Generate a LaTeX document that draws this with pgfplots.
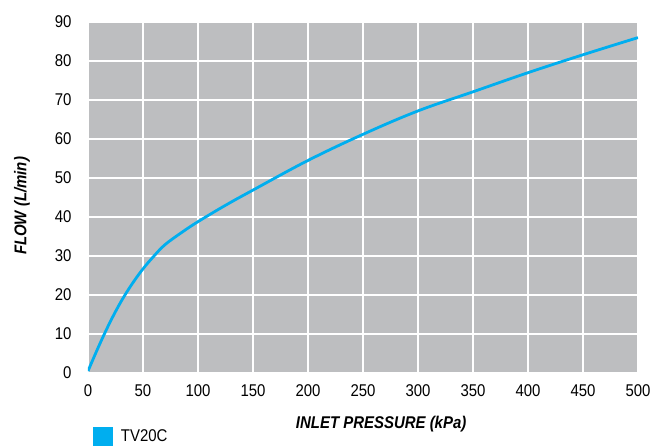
\documentclass[border=0pt]{standalone}
\usepackage{pgfplots}
\pgfplotsset{compat=1.18}
\usepackage{fontspec}
\setmainfont{Liberation Sans}[FakeStretch=0.88]
\definecolor{bggray}{HTML}{BDBEC0}
\definecolor{cyanline}{HTML}{00AEEF}
\pgfplotstableread{
x y
0 0.5
10 7.0
20 13.0
30 18.3
40 22.8
50 26.7
60 30.0
70 32.9
85 36.0
100 38.8
125 43.0
150 46.9
200 54.5
250 61.2
300 67.2
350 72.1
400 77.0
450 81.6
500 86.0
}\flowdata
\begin{document}
\begin{tikzpicture}
\useasboundingbox (-88pt,-73pt) rectangle (581pt,373pt);
\begin{axis}[
  scale only axis,
  width=550pt, height=351pt,
  xmin=0, xmax=500, ymin=0, ymax=90,
  xtick={0,50,...,500}, ytick={0,10,...,90},
  axis background/.style={fill=bggray},
  axis line style={draw=none},
  major tick length=0pt,
  grid=major,
  major grid style={white, line width=2.6pt},
  tick label style={font=\fontsize{17}{19}\selectfont, black},
  /pgf/number format/assume math mode=true,
  xticklabel style={yshift=-8pt},
  yticklabel style={xshift=-13pt},
  xlabel={\textbf{\textit{INLET PRESSURE (kPa)}}},
  ylabel={\textbf{\textit{FLOW (L/min)}}},
  label style={font=\fontsize{17}{19}\selectfont},
  xlabel style={at={(axis description cs:0.533,-0.145)}, anchor=center},
  ylabel style={at={(axis description cs:-0.12,0.476)}, anchor=center},
  legend style={at={(axis description cs:0.009,-0.18)}, anchor=west, draw=none, fill=none,
    font=\fontsize{17}{19}\selectfont, inner sep=0pt},
  legend image code/.code={\fill[cyanline] (0pt,-8pt) rectangle (17pt,8pt);},
  legend cell align=left,
]
\addplot[cyanline, line width=2.8pt, smooth, tension=0.6] table[x=x,y=y] {\flowdata};
\addlegendentry{\hspace{6pt}TV20C}
\end{axis}
\end{tikzpicture}
\end{document}
